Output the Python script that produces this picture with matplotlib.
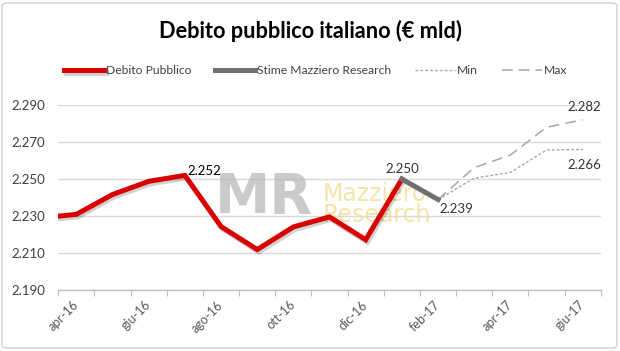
import numpy as np
import matplotlib
matplotlib.use("Agg")
import matplotlib.pyplot as plt
import matplotlib.patheffects as pe
from matplotlib.patches import FancyBboxPatch

months = ['mar-16', 'apr-16', 'mag-16', 'giu-16', 'lug-16', 'ago-16', 'set-16', 'ott-16',
          'nov-16', 'dic-16', 'gen-17', 'feb-17', 'mar-17', 'apr-17', 'mag-17', 'giu-17']
N = None
debito = [2.229, 2.231, 2.2417, 2.2488, 2.252, 2.2244, 2.212, 2.2242, 2.2296, 2.2173, 2.250,
          N, N, N, N, N]
stime = [N, N, N, N, N, N, N, N, N, N, 2.250, 2.239, N, N, N, N]
minimo = [N, N, N, N, N, N, N, N, N, N, N, 2.239, 2.2505, 2.2536, 2.2657, 2.266]
massimo = [N, N, N, N, N, N, N, N, N, N, N, 2.239, 2.2562, 2.263, 2.278, 2.282]
yticks = [2.190, 2.210, 2.230, 2.250, 2.270, 2.290]
shown_labels = ['apr-16', 'giu-16', 'ago-16', 'ott-16', 'dic-16', 'feb-17', 'apr-17', 'giu-17']

def arr(v):
    return np.array([np.nan if a is None else a for a in v], dtype=float)

plt.rcParams['font.family'] = ['Lato', 'DejaVu Sans']

fig = plt.figure(figsize=(6.2, 3.51), dpi=100)
fig.patch.set_facecolor('white')
fig.patches.append(FancyBboxPatch((2 / 620, 3 / 351), 615 / 620, 345 / 351,
                                  boxstyle='round,pad=0,rounding_size=0.008',
                                  transform=fig.transFigure, facecolor='none',
                                  edgecolor='#d0d0d0', linewidth=1.0))

L, R, T, B = 58.3, 600.8, 105.0, 290.3
ax = fig.add_axes([L / 620, 1 - B / 351, (R - L) / 620, (B - T) / 351])
x = np.arange(len(months))

def axfrac(px, py):
    return (px - L) / (R - L), (B - py) / (B - T)

# watermark
mx_, my_ = axfrac(313, 213)
ax.text(mx_, my_, 'MR', transform=ax.transAxes, fontsize=40, color='#b4b4b4',
        family='DejaVu Sans', fontweight='bold', alpha=0.7, ha='right', va='baseline', zorder=1)
zx, zy = axfrac(323, 222)
ax.text(zx, zy, 'Mazziero\nResearch', transform=ax.transAxes, fontsize=17, color='#f1dc8e',
        family='DejaVu Sans', alpha=0.75, ha='left', va='baseline', linespacing=0.82, zorder=1)

red, = ax.plot(x, arr(debito), color='#d90000', lw=3.6, solid_joinstyle='miter', zorder=5,
               path_effects=[pe.SimpleLineShadow(offset=(1.2, -1.8), shadow_color='#000000', alpha=0.18),
                             pe.Normal()])
gray, = ax.plot(x, arr(stime), color='#707070', lw=3.6, zorder=5)
mn, = ax.plot(x, arr(minimo), color='#a6a6a6', lw=1.0, ls=(0, (2, 1.5)), zorder=4)
mx, = ax.plot(x, arr(massimo), color='#a6a6a6', lw=1.1, ls=(0, (7, 4)), zorder=4)

ax.set_xlim(0.5, len(months) - 0.5)
ax.set_ylim(2.190, 2.290)
ax.set_yticks(yticks)
ax.set_yticklabels([f'{v:.3f}' for v in yticks])
ax.yaxis.grid(True, color='#d9d9d9', lw=1.0)
ax.set_axisbelow(True)
for s in ['top', 'right', 'left']:
    ax.spines[s].set_visible(False)
ax.spines['bottom'].set_color('#bfbfbf')
ax.spines['bottom'].set_linewidth(1.0)
ax.tick_params(axis='y', length=0, pad=9.5, labelsize=9.5, labelcolor='#404040')

ax.set_xticks(np.arange(0.5, len(months), 1.0))
ax.set_xticklabels([])
ax.tick_params(axis='x', which='major', length=4, color='#bfbfbf', direction='out')
lab_pos = [months.index(m) for m in shown_labels]
ax.set_xticks(lab_pos, minor=True)
ax.set_xticklabels(shown_labels, minor=True, rotation=45, ha='right', va='center',
                   rotation_mode='anchor')
ax.tick_params(axis='x', which='minor', length=0, pad=9, labelsize=9, labelcolor='#595959')

def lab(i, v, txt, dx, dy, ha, va, color='#333333'):
    ax.annotate(txt, (i, v), xytext=(dx, dy), textcoords='offset points', ha=ha, va=va,
                fontsize=9.5, color=color, zorder=6)

lab(4, debito[4], '2.252', 2, 3.5, 'left', 'center', color='#000000')
lab(10, debito[10], '2.250', 0, 3, 'center', 'bottom')
lab(11, stime[11], '2.239', 1, -6.7, 'left', 'center')
lab(15, massimo[15], '2.282', 1, 9, 'center', 'center')
lab(15, minimo[15], '2.266', 1.5, -11, 'center', 'center')

fig.text(0.5, 1 - 30.5 / 351, 'Debito pubblico italiano (€ mld)', ha='center', va='center',
         fontsize=15.7, fontweight='bold', color='#000000')

fig.legend([red, gray, mn, mx], ['Debito Pubblico', 'Stime Mazziero Research', 'Min', 'Max'],
           loc='center left', bbox_to_anchor=(64 / 620, 1 - 71 / 351), ncol=4, frameon=False,
           fontsize=8.7, handlelength=3.3, handletextpad=0.15, columnspacing=2.0,
           borderpad=0, borderaxespad=0, labelcolor='#404040')

fig.savefig('out.png', dpi=100)
